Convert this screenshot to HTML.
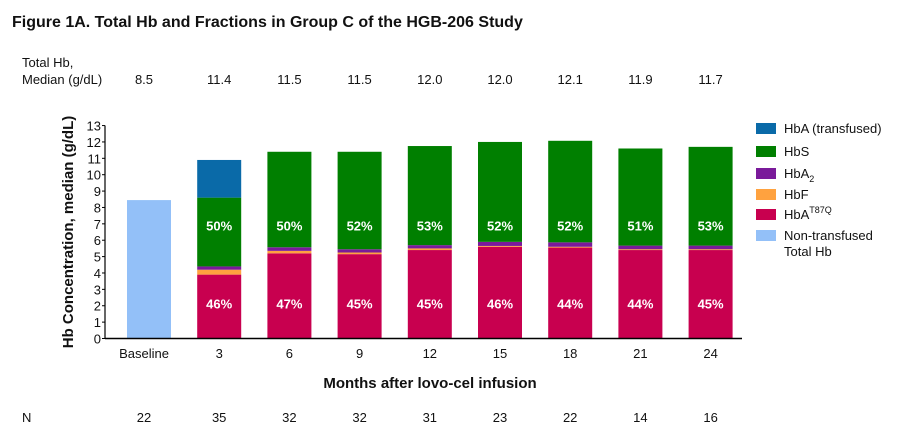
<!DOCTYPE html>
<html><head><meta charset="utf-8"><style>
body{margin:0;background:#fff;width:905px;height:442px;overflow:hidden;font-family:"Liberation Sans",Arial,sans-serif}
svg text{font-family:"Liberation Sans",Arial,sans-serif}
</style></head><body>
<svg id="c" width="905" height="442" xmlns="http://www.w3.org/2000/svg">
<text x="12" y="27" font-size="16" font-weight="bold" fill="#111">Figure 1A. Total Hb and Fractions in Group C of the HGB-206 Study</text>
<text x="22" y="67" font-size="13" fill="#111">Total Hb,</text>
<text x="22" y="84" font-size="13" fill="#111">Median (g/dL)</text>
<text x="22" y="422" font-size="13" fill="#111">N</text>
<text transform="translate(73,232) rotate(-90)" text-anchor="middle" font-size="15" font-weight="bold" fill="#111">Hb Concentration, median (g/dL)</text>
<text x="430" y="388" text-anchor="middle" font-size="15" font-weight="bold" fill="#111">Months after lovo-cel infusion</text>
<g id="g"></g>
</svg>
<script>
const categories=["Baseline","3","6","9","12","15","18","21","24"];
const totals=["8.5","11.4","11.5","11.5","12.0","12.0","12.1","11.9","11.7"];
const nValues=["22","35","32","32","31","23","22","14","16"];
const baseline=[8.45,0,0,0,0,0,0,0,0];
const hbaT87Q=[0,3.9,5.2,5.15,5.4,5.6,5.55,5.4,5.4];
const hbF=[0,0.3,0.15,0.1,0.1,0.05,0.05,0.05,0.05];
const hbA2=[0,0.2,0.22,0.2,0.2,0.25,0.27,0.22,0.22];
const hbS=[0,4.2,5.83,5.95,6.05,6.1,6.2,5.93,6.03];
const hbATrans=[0,2.3,0,0,0,0,0,0,0];
const pctT87Q=["","46%","47%","45%","45%","46%","44%","44%","45%"];
const pctS=["","50%","50%","52%","53%","52%","52%","51%","53%"];
const yTicks=[0,1,2,3,4,5,6,7,8,9,10,11,12,13];
const NS="http://www.w3.org/2000/svg",g=document.getElementById('g');
const y0=338.5,ppu=16.38,x0=149,dx=70.2,bw=44,axisX=105;
const Y=v=>y0-v*ppu, X=i=>x0+i*dx;
function mk(t,a,txt){const e=document.createElementNS(NS,t);for(const k in a)e.setAttribute(k,a[k]);if(txt!=null)e.textContent=txt;g.appendChild(e);return e;}
const series=[[baseline,"#93c0f8","bar-baseline"],[hbaT87Q,"#c8004f","bar-hba-t87q"],[hbF,"#ffa23f","bar-hbf"],[hbA2,"#7a1a9a","bar-hba2"],[hbS,"#007f00","bar-hbs"],[hbATrans,"#0a6aa8","bar-hba-transfused"]];
categories.forEach((c,i)=>{let cum=0;
 series.forEach(([arr,col,nm])=>{const v=arr[i];if(v>0){const r=mk('rect',{x:X(i)-bw/2,y:Y(cum+v),width:bw,height:v*ppu,fill:col});
 
 }cum+=v;});
 if(pctT87Q[i]){const t=mk('text',{x:X(i),y:Y(2.15)+5,'text-anchor':'middle','font-size':13,'font-weight':'bold',fill:'#fff'},pctT87Q[i]);
 
 
 const s=mk('text',{x:X(i),y:Y(6.9)+5,'text-anchor':'middle','font-size':13,'font-weight':'bold',fill:'#fff'},pctS[i]);
 
 }
 const xl=mk('text',{x:X(i)-(i==0?5:0),y:358,'text-anchor':'middle','font-size':13,fill:'#111'},c);
 
 
 const tl=mk('text',{x:X(i)-(i==0?5:0),y:84,'text-anchor':'middle','font-size':13,fill:'#111'},totals[i]);
 
 
 const nl=mk('text',{x:X(i)-(i==0?5:0),y:422,'text-anchor':'middle','font-size':13,fill:'#111'},nValues[i]);
 
 
});
yTicks.forEach(v=>{const t=mk('text',{x:axisX-4,y:Y(v)+5,'text-anchor':'end','font-size':13,fill:'#111'},v);
 
 
 const l=mk('line',{x1:axisX-3,x2:axisX,y1:Y(v),y2:Y(v),stroke:'#000'});
 
 });
const ya=mk('line',{x1:axisX,x2:axisX,y1:Y(13),y2:y0,stroke:'#000','stroke-width':1.2});


const xa=mk('line',{x1:axisX,x2:742,y1:y0,y2:y0,stroke:'#000','stroke-width':1.5});


const leg=[["#0a6aa8","HbA (transfused)",""],["#007f00","HbS",""],["#7a1a9a","HbA","2"],["#ffa23f","HbF",""],["#c8004f","HbA","T87Q"],["#93c0f8","Non-transfused",""]];
const ly=[128,151,173,194,214,235];
leg.forEach((L,i)=>{const r=mk('rect',{x:756,y:ly[i]-5,width:20,height:11,fill:L[0]});
 
 
 const t=mk('text',{x:784,y:ly[i]+5,'font-size':13,fill:'#111'},L[1]);
 
 
 if(L[2]){const ts=document.createElementNS(NS,'tspan');ts.setAttribute('font-size','9');ts.setAttribute('dy',L[2]=="2"?'4':'-6');ts.textContent=L[2];t.appendChild(ts);}});
const t2=mk('text',{x:784,y:256,'font-size':13,fill:'#111'},'Total Hb');


</script>
</body></html>
